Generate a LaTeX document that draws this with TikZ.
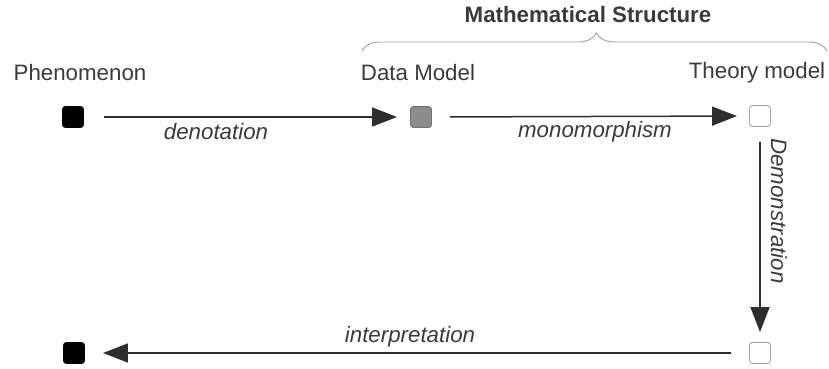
\documentclass[tikz,border=0pt]{standalone}
\usepackage{fontspec}
\setmainfont{Liberation Sans}
\usetikzlibrary{arrows.meta,decorations.pathreplacing}
\definecolor{txt}{HTML}{3A3A3A}
\definecolor{ln}{HTML}{2E2E2E}
\definecolor{midgray}{HTML}{8C8C8C}
\definecolor{edge}{HTML}{A0A0A0}
\begin{document}
\begin{tikzpicture}[x=1pt,y=-1pt,
  lbl/.style={text=txt,font=\fontsize{22.3}{26}\selectfont,inner sep=0pt},
  elbl/.style={text=txt,font=\fontsize{22.3}{26}\selectfont\itshape,inner sep=0pt},
  sqbox/.style={minimum size=21pt,inner sep=0pt,rounded corners=3pt,draw=edge,line width=0.9pt},
  conn/.style={draw=ln,line width=1.5pt,-{Triangle[length=25pt,width=19pt]}}]
\useasboundingbox (0,0) rectangle (829,369);
% squares
\node[sqbox,fill=black,draw=black] (phen) at (73,117) {};
\node[sqbox,fill=midgray,draw=midgray!80!black] (data) at (421,117) {};
\node[sqbox,fill=white] (theo) at (760,116) {};
\node[sqbox,fill=white] (theo2) at (760,353) {};
\node[sqbox,fill=black,draw=black] (phen2) at (74,353) {};
% labels
\node[lbl] (lphen) at (80,73) {Phenomenon};
\node[lbl] (ldata) at (418,73) {Data Model};
\node[lbl] (ltheo) at (757,73) {Theory model};
\node[lbl,font=\fontsize{22.3}{26}\selectfont\bfseries] (lms) at (588,15) {Mathematical Structure};
% brace
\coordinate (bl) at (362,51);
\coordinate (br) at (827,51);
\draw[draw=edge,line width=0.9pt,decoration={brace,amplitude=18pt,aspect=0.504},decorate] (bl) -- (br);
% connectors
\draw[conn,shorten <=20pt,shorten >=13pt] (phen.east) -- (data.west |- phen.east);
\node[elbl] (ldeno) at (216,132) {denotation};
\draw[conn,shorten <=18pt,shorten >=12pt] (data.east) -- (theo.west);
\node[elbl] (lmono) at (595,132) {monomorphism};
\draw[conn,shorten <=15pt,shorten >=10pt] (theo.south) -- (theo2.north);
\node[elbl,rotate=-90] (ldemo) at (779,211) {Demonstration};
\draw[conn,shorten <=18pt,shorten >=18pt] (theo2.west) -- (phen2.east);
\node[elbl] (linter) at (410,337) {interpretation};
\end{tikzpicture}
\end{document}
